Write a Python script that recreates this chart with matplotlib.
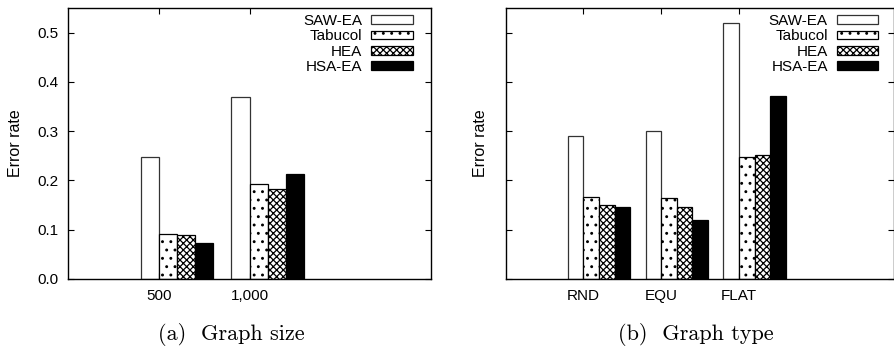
import matplotlib
matplotlib.use("Agg")
import matplotlib.pyplot as plt
import numpy as np
from matplotlib.transforms import ScaledTranslation

plt.rcParams['font.family'] = ['Liberation Sans', 'DejaVu Sans']
plt.rcParams['hatch.linewidth'] = 0.9

series = ["SAW-EA", "Tabucol", "HEA", "HSA-EA"]
size_labels = ["500", "1,000"]
size_saw = [0.247, 0.370]
size_tabucol = [0.092, 0.193]
size_hea = [0.089, 0.182]
size_hsa = [0.073, 0.213]

type_labels = ["RND", "EQU", "FLAT"]
type_saw = [0.291, 0.300, 0.519]
type_tabucol = [0.167, 0.164, 0.247]
type_hea = [0.150, 0.146, 0.251]
type_hsa = [0.146, 0.119, 0.372]

styles = [
    dict(facecolor="white", edgecolor="#333333", hatch=None),
    dict(facecolor="white", edgecolor="black", hatch=".."),
    dict(facecolor="white", edgecolor="black", hatch="xxxxx"),
    dict(facecolor="black", edgecolor="black", hatch=None),
]

fig = plt.figure(figsize=(8.95, 3.51), dpi=100)
W, H = 895, 351
ax1 = fig.add_axes([68 / W, (H - 279) / H, (431 - 68) / W, (279 - 8) / H])
ax2 = fig.add_axes([505.7 / W, (H - 279) / H, (894.5 - 505.7) / W, (279 - 8) / H])


def draw(ax, labels, data, xmax, show_ylabels, ylabel_x, legend_dx):
    x = np.arange(len(labels))
    w = 0.2
    for i, (vals, st) in enumerate(zip(data, styles)):
        ax.bar(x - 0.2 + i * w, vals, width=w, align="edge", label=series[i],
               linewidth=0.9, **st)
    ax.set_xlim(-1, xmax)
    ax.set_ylim(0, 0.55)
    ax.set_xticks(x)
    ax.set_xticklabels(labels, fontsize=11)
    ax.set_yticks([0.0, 0.1, 0.2, 0.3, 0.4, 0.5])
    if show_ylabels:
        ax.set_yticklabels(["0.0", "0.1", "0.2", "0.3", "0.4", "0.5"], fontsize=11)
    else:
        ax.set_yticklabels([])
    ax.tick_params(axis="both", direction="in", length=4, width=0.8,
                   top=True, right=True)
    ax.tick_params(axis="x", pad=7)
    ax.tick_params(axis="y", pad=7)
    ax.set_ylabel("Error rate", fontsize=11.5)
    ax.yaxis.set_label_coords(ylabel_x, 0.5)
    for s in ax.spines.values():
        s.set_linewidth(1.0)
    tr = ax.transAxes + ScaledTranslation(legend_dx / 100, 0.09, fig.dpi_scale_trans)
    leg = ax.legend(loc="upper right", frameon=False, markerfirst=False,
                    fontsize=11, handlelength=2.7, handleheight=0.5,
                    labelspacing=0.08, handletextpad=0.6,
                    bbox_to_anchor=(1.0, 1.0), bbox_transform=tr,
                    borderaxespad=0.6)
    for t in leg.get_texts():
        t.set_ha("right")
    return ax


draw(ax1, size_labels, [size_saw, size_tabucol, size_hea, size_hsa], 3, True, -0.124, -3)
draw(ax2, type_labels, [type_saw, type_tabucol, type_hea, type_hsa], 4, False, -0.046, -1)

fig.text(231 / W, (H - 335) / H, "(a)  Graph size", family="cmr10", fontsize=16,
         ha="center", va="center")
fig.text(696 / W, (H - 335) / H, "(b)  Graph type", family="cmr10", fontsize=16,
         ha="center", va="center")

fig.savefig("out.png", dpi=100)
